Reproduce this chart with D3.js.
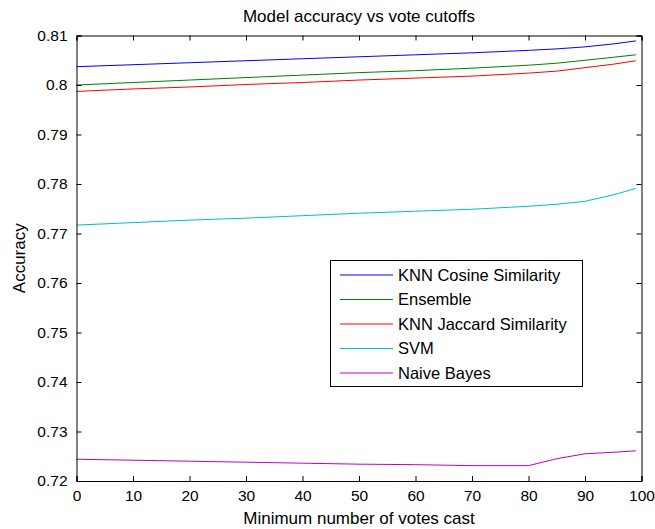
<!DOCTYPE html>
<html><head><meta charset="utf-8">
<script src="https://cdn.jsdelivr.net/npm/d3@7"></script>
<style>
body{margin:0;background:#fff;}
text{font-family:"Liberation Sans",Arial,sans-serif;fill:#000;}
</style></head>
<body><svg id="c" width="655" height="529"></svg>
<script>
const xTicks = [0,10,20,30,40,50,60,70,80,90,100];
const yTicks = [0.72,0.73,0.74,0.75,0.76,0.77,0.78,0.79,0.80,0.81];
const yTickLabels = ["0.72","0.73","0.74","0.75","0.76","0.77","0.78","0.79","0.8","0.81"];
const seriesNames = ["KNN Cosine Similarity","Ensemble","KNN Jaccard Similarity","SVM","Naive Bayes"];
const seriesColors = ["#0000ff","#008000","#ff0000","#00bfbf","#bf00bf"];
const votes = [0,10,20,30,40,50,60,70,80,85,90,95,99];
const knnCosine  = [0.8037,0.8041,0.8045,0.8049,0.8053,0.8057,0.8061,0.8065,0.8070,0.8073,0.8077,0.8083,0.8089];
const ensemble   = [0.8000,0.8005,0.8010,0.8015,0.8020,0.8025,0.8029,0.8034,0.8040,0.8044,0.8050,0.8056,0.8061];
const knnJaccard = [0.7987,0.7992,0.7996,0.8001,0.8005,0.8010,0.8014,0.8018,0.8024,0.8028,0.8035,0.8042,0.8049];
const svm        = [0.7717,0.7722,0.7727,0.7731,0.7736,0.7741,0.7745,0.7749,0.7755,0.7759,0.7765,0.7778,0.7791];
const naiveBayes = [0.7244,0.7242,0.7240,0.7238,0.7236,0.7234,0.7233,0.7231,0.7231,0.7245,0.7255,0.7258,0.7261];
const seriesValues = [knnCosine,ensemble,knnJaccard,svm,naiveBayes];

const svg = d3.select("#c");
const L=76.5, R=641.5, T=35.5, B=481;
const x = d3.scaleLinear().domain([0,100]).range([L,R]);
const y = d3.scaleLinear().domain([0.72,0.81]).range([B,T]);

// series
const line = d3.line().x((d,i)=>x(votes[i])).y(d=>y(d));
seriesValues.forEach((vals,k)=>{
  svg.append("path").attr("d",line(vals)).attr("fill","none")
    .attr("stroke",seriesColors[k]).attr("stroke-width",1);
});

// axes with inward ticks
const axB = d3.axisBottom(x).tickValues(xTicks).tickSize(-5).tickPadding(9).tickFormat(d3.format("d"));
const axT = d3.axisTop(x).tickValues(xTicks).tickSize(-5).tickFormat("");
const axL = d3.axisLeft(y).tickValues(yTicks).tickSize(-5).tickPadding(9).tickFormat((d,i)=>yTickLabels[i]);
const axR = d3.axisRight(y).tickValues(yTicks).tickSize(-5).tickFormat("");
[[axB,`translate(0,${B})`],[axT,`translate(0,${T})`],[axL,`translate(${L},0)`],[axR,`translate(${R},0)`]].forEach(([a,t])=>{
  const g = svg.append("g").attr("transform",t).call(a);
  g.selectAll("path,line").attr("stroke","#000").attr("stroke-width",1);
  g.selectAll("text").attr("font-size",15.5).attr("fill","#000")
    .style("font-family",'"Liberation Sans",Arial,sans-serif');
});

// title and labels
svg.append("text").attr("x",(L+R)/2).attr("y",22).attr("text-anchor","middle").attr("font-size",17).text("Model accuracy vs vote cutoffs");
svg.append("text").attr("x",(L+R)/2).attr("y",524).attr("text-anchor","middle").attr("font-size",17).text("Minimum number of votes cast");
svg.append("text").attr("transform",`translate(25,${(T+B)/2}) rotate(-90)`).attr("text-anchor","middle").attr("font-size",17).text("Accuracy");

// legend
const lg = svg.append("g");
lg.append("rect").attr("x",330.5).attr("y",260.5).attr("width",252).attr("height",126)
  .attr("fill","#fff").attr("stroke","#000").attr("stroke-width",1);
seriesNames.forEach((n,k)=>{
  const yy = 275 + k*24.5;
  lg.append("line").attr("x1",340).attr("x2",393).attr("y1",yy).attr("y2",yy).attr("stroke",seriesColors[k]);
  lg.append("text").attr("x",398).attr("y",yy).attr("dy","0.35em").attr("font-size",16.5).text(n);
});
</script></body></html>
